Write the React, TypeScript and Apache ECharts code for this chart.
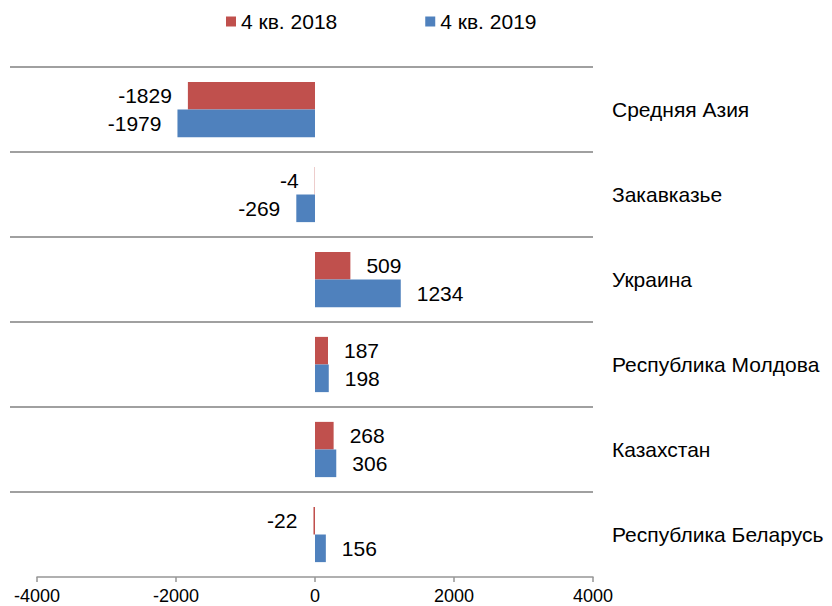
import React, { useEffect, useRef } from "react";
import * as echarts from "echarts";

const categories = [
  "Средняя Азия",
  "Закавказье",
  "Украина",
  "Республика Молдова",
  "Казахстан",
  "Республика Беларусь",
];
const seriesNames = ["4 кв. 2018", "4 кв. 2019"];
const values2018 = [-1829, -4, 509, 187, 268, -22];
const values2019 = [-1979, -269, 1234, 198, 306, 156];
const xTicks = { min: -4000, max: 4000, interval: 2000 };

const FONT = 'Arial, "Liberation Sans", sans-serif';
const GRID_COLOR = "#A0A0A0";

function toItems(vals: number[]) {
  return vals.map((v) => ({
    value: v,
    label: { position: v < 0 ? "left" : "right" },
  }));
}

export default function App() {
  const ref = useRef<HTMLDivElement>(null);
  useEffect(() => {
    if (!ref.current) return;
    const chart = echarts.init(ref.current, null, { renderer: "svg" });
    const labelStyle = {
      show: true,
      distance: 16,
      color: "#000",
      fontSize: 21,
      fontFamily: FONT,
    };
    chart.setOption({
      animation: false,
      backgroundColor: "#fff",
      textStyle: { fontFamily: FONT },
      legend: {
        left: 226,
        top: 11,
        padding: 0,
        itemWidth: 10,
        itemHeight: 10,
        itemGap: 88,
        icon: "rect",
        textStyle: { fontSize: 21, color: "#000", fontFamily: FONT },
        data: seriesNames,
      },
      grid: [
        { left: 37, right: 239, top: 67, bottom: 29, containLabel: false },
        { left: 10, right: 239, top: 67, bottom: 114, containLabel: false },
      ],
      xAxis: [
        {
          gridIndex: 0,
          type: "value",
          min: xTicks.min,
          max: xTicks.max,
          interval: xTicks.interval,
          splitLine: { show: false },
          axisLine: { show: true, lineStyle: { color: "#969696", width: 1.5 } },
          axisTick: { show: true, length: 5, lineStyle: { color: "#969696", width: 1.5 } },
          axisLabel: {
            fontSize: 18,
            color: "#000",
            margin: 10,
            fontFamily: FONT,
            formatter: (v: number) => String(v),
          },
        },
        {
          gridIndex: 1,
          type: "value",
          show: false,
          min: 0,
          max: 1,
        },
      ],
      yAxis: [
        {
          gridIndex: 0,
          type: "category",
          data: categories,
          inverse: true,
          position: "right",
          axisLine: { show: false },
          axisTick: { show: false },
          splitLine: { show: false },
          axisLabel: {
            fontSize: 21,
            color: "#000",
            margin: 19,
            align: "left",
            fontFamily: FONT,
          },
        },
        {
          gridIndex: 1,
          type: "category",
          data: categories.slice(0, 5),
          inverse: true,
          axisLine: { show: false },
          axisTick: { show: false },
          axisLabel: { show: false },
          splitLine: { show: true, lineStyle: { color: GRID_COLOR, width: 2 } },
        },
      ],
      series: [
        {
          name: seriesNames[0],
          type: "bar",
          xAxisIndex: 0,
          yAxisIndex: 0,
          data: toItems(values2018),
          itemStyle: { color: "#C0504D" },
          barGap: "0%",
          barCategoryGap: "35%",
          label: labelStyle,
        },
        {
          name: seriesNames[1],
          type: "bar",
          xAxisIndex: 0,
          yAxisIndex: 0,
          data: toItems(values2019),
          itemStyle: { color: "#4F81BD" },
          barGap: "0%",
          barCategoryGap: "35%",
          label: labelStyle,
        },
      ],
    });
    return () => chart.dispose();
  }, []);
  return (
    <div
      ref={ref}
      style={{ position: "fixed", left: 0, top: 0, width: 832, height: 606 }}
    />
  );
}
